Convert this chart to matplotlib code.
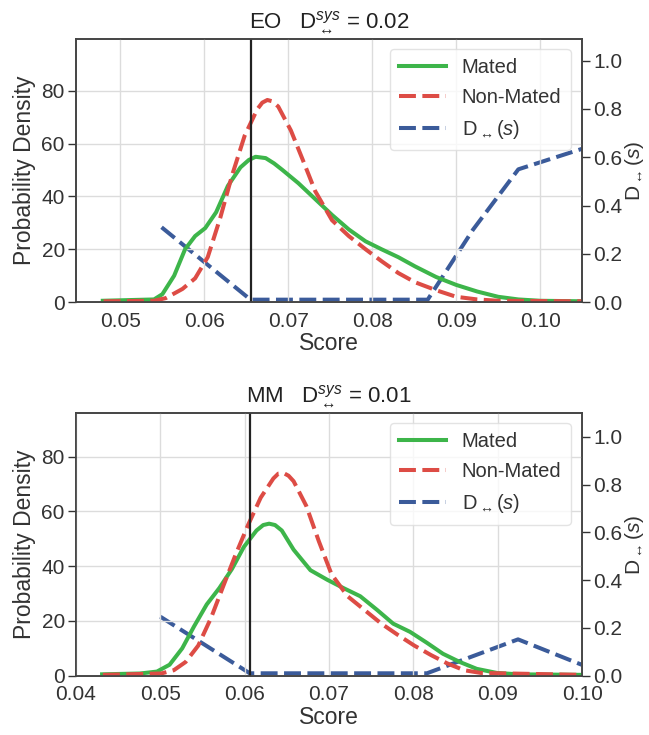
import matplotlib
matplotlib.use("Agg")
import matplotlib.pyplot as plt

plt.rcParams['font.family'] = ['Liberation Sans', 'DejaVu Sans']
plt.rcParams['mathtext.fontset'] = 'custom'
plt.rcParams['mathtext.rm'] = 'Liberation Sans'
plt.rcParams['mathtext.it'] = 'Liberation Sans:italic'

GREEN = '#3db54a'
RED = '#dd4c45'
BLUE = '#3b5b9a'

# ---- EO panel ----
eo_mated_x = [0.0479, 0.054, 0.055, 0.0564, 0.0577, 0.0589, 0.0601, 0.0614, 0.0628, 0.0643,
              0.0653, 0.0661, 0.0673, 0.0683, 0.0693, 0.0712, 0.0732, 0.0752, 0.0772, 0.0792,
              0.0811, 0.0831, 0.0851, 0.0876, 0.090, 0.0925, 0.095, 0.0974, 0.100, 0.105]
eo_mated_y = [0.5, 1, 3, 10, 20, 25, 28, 34, 44, 51,
              53.8, 55, 54.5, 52.5, 50, 45, 39, 33, 27.5, 23,
              20, 17, 13.5, 9.5, 6.5, 4, 2, 1, 0.5, 0.3]
eo_non_x = [0.048, 0.054, 0.0554, 0.0574, 0.0589, 0.0604, 0.0619, 0.0633, 0.0648, 0.0663,
            0.0669, 0.0675, 0.0681, 0.0688, 0.0703, 0.0717, 0.0732, 0.0752, 0.0772, 0.0792,
            0.0811, 0.0831, 0.0851, 0.0876, 0.090, 0.0925, 0.095, 0.105]
eo_non_y = [0.3, 0.5, 1.5, 5, 9, 17, 32, 48, 63, 73,
            75.5, 76.5, 76, 74, 65, 54, 42, 31, 25, 20,
            15.5, 11, 7.5, 4.5, 2, 1, 0.5, 0.3]
eo_d_x = [0.0549, 0.0655, 0.0866, 0.0920, 0.0974, 0.105]
eo_d_y = [0.31, 0.01, 0.01, 0.30, 0.55, 0.635]
eo_threshold = 0.0655

# ---- MM panel ----
mm_mated_x = [0.0431, 0.0476, 0.0496, 0.0511, 0.0526, 0.054, 0.0555, 0.057, 0.0585, 0.0599,
              0.0614, 0.0622, 0.0629, 0.0636, 0.0644, 0.0658, 0.0678, 0.0698, 0.0717, 0.0737,
              0.0757, 0.0776, 0.0796, 0.0816, 0.0835, 0.0855, 0.0875, 0.0899, 0.0924, 0.100]
mm_mated_y = [0.5, 0.8, 1.5, 4, 10, 18, 26, 32, 39, 47,
              53, 55, 55.5, 55, 53, 46, 38.5, 35, 32, 29,
              24, 19, 16, 12, 8, 5, 2.5, 1, 0.5, 0.3]
mm_non_x = [0.0432, 0.0501, 0.0516, 0.053, 0.0545, 0.056, 0.0575, 0.0589, 0.0604, 0.0619,
            0.0634, 0.0640, 0.0646, 0.0652, 0.0658, 0.0673, 0.0688, 0.0703, 0.0722, 0.0742,
            0.0762, 0.0781, 0.0801, 0.0821, 0.084, 0.086, 0.088, 0.100]
mm_non_y = [0.3, 0.8, 2, 5, 11, 21, 33, 44, 55, 65,
            72, 73.8, 74, 73, 71, 62, 49, 37, 29, 24,
            19, 15, 11, 7.5, 4.5, 2, 1, 0.3]
mm_d_x = [0.050, 0.0606, 0.0816, 0.0924, 0.100]
mm_d_y = [0.247, 0.01, 0.01, 0.152, 0.045]
mm_threshold = 0.0606

panels = [
    dict(name="EO", dsys="0.02", mx=eo_mated_x, my=eo_mated_y, nx=eo_non_x, ny=eo_non_y,
         dx=eo_d_x, dy=eo_d_y, thr=eo_threshold, xlim=(0.0447, 0.105), ylim=(0, 99.6),
         y2lim=(0, 1.09), xticks=[0.05, 0.06, 0.07, 0.08, 0.09, 0.10]),
    dict(name="MM", dsys="0.01", mx=mm_mated_x, my=mm_mated_y, nx=mm_non_x, ny=mm_non_y,
         dx=mm_d_x, dy=mm_d_y, thr=mm_threshold, xlim=(0.04, 0.10), ylim=(0, 95.8),
         y2lim=(0, 1.098), xticks=[0.04, 0.05, 0.06, 0.07, 0.08, 0.09, 0.10]),
]

fig = plt.figure(figsize=(6.49, 7.35), dpi=100)
positions = [[0.117, 0.589, 0.780, 0.358], [0.117, 0.0807, 0.780, 0.357]]
DASH = (0, (4.2, 1.6))

for p, pos in zip(panels, positions):
    ax = fig.add_axes(pos)
    ax2 = ax.twinx()
    ax.set_zorder(ax2.get_zorder() + 1)
    ax.patch.set_visible(False)

    l1, = ax.plot(p['mx'], p['my'], color=GREEN, lw=2.9, label="Mated")
    l2, = ax.plot(p['nx'], p['ny'], color=RED, lw=2.9, ls=DASH, label="Non-Mated")
    l3, = ax2.plot(p['dx'], p['dy'], color=BLUE, lw=2.9, ls=DASH,
                   label=r"D$_{\leftrightarrow}(s)$")
    ax.axvline(p['thr'], color='#222222', lw=1.6)

    ax.set_xlim(*p['xlim'])
    ax.set_ylim(*p['ylim'])
    ax2.set_ylim(*p['y2lim'])
    ax.set_xticks(p['xticks'])
    ax.set_xticklabels([f"{t:.2f}" for t in p['xticks']])
    ax.set_yticks([0, 20, 40, 60, 80])
    ax2.set_yticks([0.0, 0.2, 0.4, 0.6, 0.8, 1.0])
    ax2.set_yticklabels([f"{t:.1f}" for t in [0.0, 0.2, 0.4, 0.6, 0.8, 1.0]])

    ax.grid(True, color='#dcdcdc', lw=1.0)
    ax.set_axisbelow(True)
    for a in (ax, ax2):
        for s in a.spines.values():
            s.set_color('#444444')
            s.set_linewidth(1.2)
        a.tick_params(labelsize=15, colors='#333333', length=6, width=1.0, pad=2)
    ax.tick_params(axis='x', length=0, pad=7)

    ax.set_xlabel("Score", fontsize=16.5, labelpad=1, color='#333333')
    ax.set_ylabel("Probability Density", fontsize=16.5, labelpad=4, color='#333333')
    ax2.set_ylabel(r"D$_{\leftrightarrow}(s)$", fontsize=15, labelpad=0, color='#333333')
    ax.set_title(p['name'] + r"   D$^{sys}_{\leftrightarrow}$ = " + p['dsys'],
                 fontsize=16, pad=8, color='#222222')

    leg = ax.legend(handles=[l1, l2, l3], loc='upper right', fontsize=14.5,
                    handlelength=2.3, frameon=True, borderpad=0.45, labelspacing=0.55,
                    borderaxespad=0, bbox_to_anchor=(0.977, 0.962))
    leg.get_frame().set_edgecolor('#dddddd')
    for t in leg.get_texts():
        t.set_color('#333333')

plt.savefig("out.png", dpi=100)
plt.close()
